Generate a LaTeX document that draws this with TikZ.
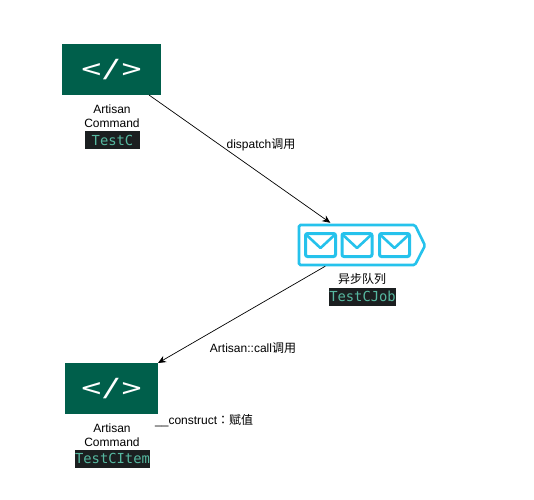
\documentclass[tikz,border=0pt]{standalone}
\usepackage{fontspec}
\usepackage{graphicx}
\setmainfont{Liberation Sans}
\newfontfamily\cjk{Noto Sans CJK SC}
\newfontfamily\cjktc{Noto Sans CJK TC}
\setmonofont{DejaVu Sans Mono}
\usetikzlibrary{arrows.meta,calc}
\definecolor{cmdgreen}{HTML}{005F4B}
\definecolor{qblue}{HTML}{25C2EC}
\definecolor{codebg}{HTML}{1B1F20}
\definecolor{codefg}{HTML}{56B8A0}
\tikzset{
  x=1pt,y=-1pt,
  cmdbox/.style={draw=none,fill=cmdgreen,inner sep=0pt,outer sep=0pt,text=white,font=\ttfamily\fontsize{25}{25}\selectfont},
  lbl/.style={inner sep=0pt,align=center,font=\fontsize{12}{14}\selectfont,text=black},
  code/.style={fill=codebg,text=codefg,inner sep=0pt,text height=14pt,text depth=4pt,inner xsep=0pt,font=\ttfamily\fontsize{13.8}{15}\selectfont},
  conn/.style={draw=black,line width=0.7pt,-{Stealth[length=8pt,width=7pt]}},
  env/.style={draw=qblue,line width=3pt,rounded corners=2pt,fill=white},
  flap/.style={draw=qblue,line width=2.6pt}
}
\newcommand{\envelope}[1]{%
  \draw[env] (#1-15,233.5) rectangle (#1+15,256.5);
  \draw[flap,line join=round] (#1-14,235) -- (#1,248) -- (#1+14,235);
}
\newcommand{\codeglyph}{\raisebox{-1pt}{\scalebox{1.33}[1]{</>}}}
\begin{document}
\begin{tikzpicture}
\useasboundingbox (0,0) rectangle (534,499);
\fill[white] (0,0) rectangle (534,499);
\node[cmdbox,minimum width=99pt,minimum height=51pt] (c1) at (111.5,69.5) {\codeglyph};
\node[lbl] (l1) at (112,116.5) {Artisan\\Command};
\node[code,minimum width=55pt] (t1) at (112.5,140) {TestC};
\node[cmdbox,minimum width=93pt,minimum height=51pt] (c3) at (111.5,388.5) {\codeglyph};
\node[lbl] (l3) at (112,435) {Artisan\\Command};
\node[code] (t3) at (112.5,458.5) {TestCItem};
\draw[draw=qblue,line width=2.6pt,fill=white,rounded corners=1.5pt]
  (299,225) -- (415,225) -- (425,245.5) -- (415,265) -- (299,265) -- cycle;
\node[inner sep=0pt,minimum width=127pt,minimum height=42pt] (q) at (362,245) {};
\envelope{320.5}
\envelope{357}
\envelope{394.5}
\node[lbl,font=\cjk\fontsize{12}{13}\selectfont] (l2) at (362,279) {异步队列};
\node[code] (t2) at (362.5,296.5) {TestCJob};
\coordinate (a1) at ($(c1.south east)+(-12,0)$);
\coordinate (a2) at ($(q.north west)+(32,-1)$);
\coordinate (b1) at ($(q.south west)+(27,0)$);
\draw[conn] (a1) -- (a2);
\draw[conn] (b1) -- (c3.north east);
\node[lbl] (e1) at (261,144.5) {dispatch{\cjk 调用}};
\node[lbl] (e2) at (253,348.5) {Artisan::call{\cjk 调用}};
\node[lbl,anchor=west] (e3) at (155,421) {\_\_construct{\cjktc ：赋值}};
\end{tikzpicture}
\end{document}
